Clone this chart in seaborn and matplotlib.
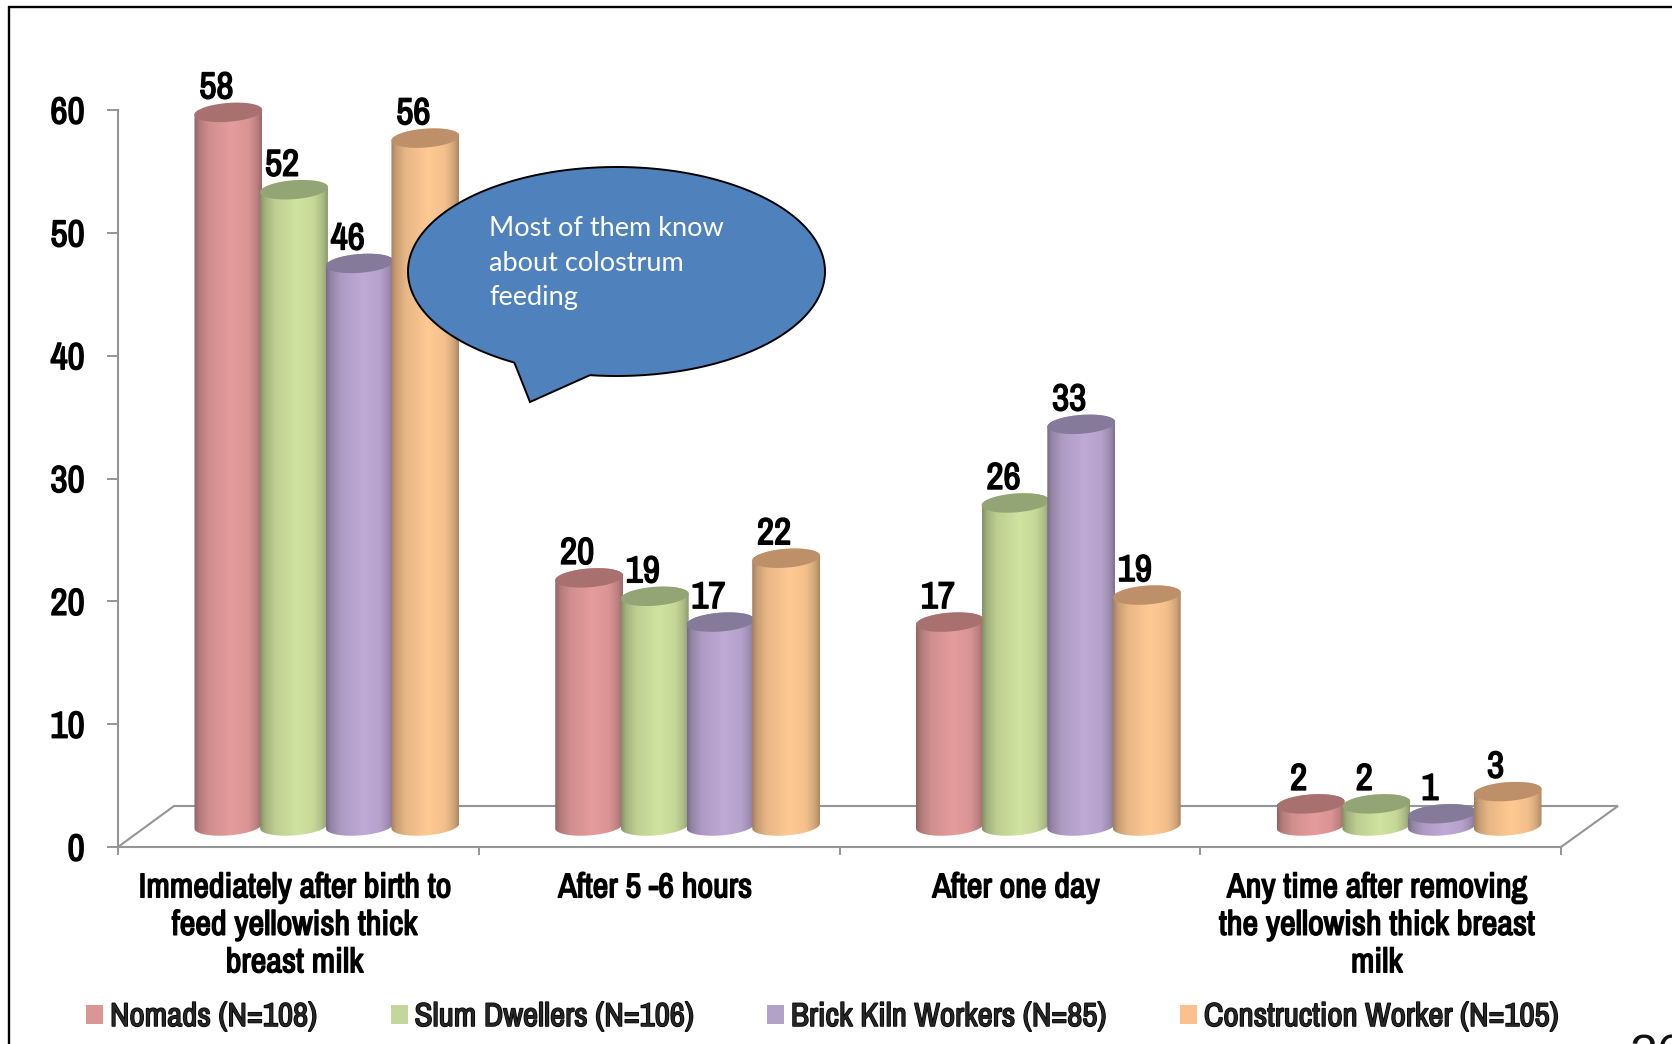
import numpy as np
import pandas as pd
import matplotlib
matplotlib.use("Agg")
import matplotlib.pyplot as plt
import matplotlib.patheffects as pe
from matplotlib.patches import Polygon
from matplotlib.colors import to_rgb
from matplotlib.transforms import ScaledTranslation
import seaborn as sns

categories = ["Immediately after birth to\nfeed yellowish thick\nbreast milk",
              "After 5 -6 hours",
              "After one day",
              "Any time after removing\nthe yellowish thick breast\nmilk"]
series_names = ["Nomads (N=108)", "Slum Dwellers (N=106)",
                "Brick Kiln Workers (N=85)", "Construction Worker (N=105)"]
nomads = [58.1, 20.2, 16.6, 1.8]
slum = [51.8, 18.7, 26.3, 1.8]
brick = [45.8, 16.6, 32.7, 1.0]
construction = [56.0, 21.8, 18.8, 2.8]
y_ticks = [0, 10, 20, 30, 40, 50, 60]
callout_lines = "Most of them know\nabout colostrum\nfeeding"

legend_colors = ["#d99694", "#c3d69b", "#b3a2c7", "#fac090"]
body_colors = ["#e59c9c", "#d0e3a0", "#bfaad6", "#ffc993"]
top_colors = ["#a87170", "#93a574", "#857a99", "#be9069"]
GRAY = "#959595"

W, H = 1672, 1044
sns.set_theme(style="white")
plt.rcParams["font.family"] = ["Archivo Narrow", "Liberation Sans", "DejaVu Sans"]
BOLD = [pe.withStroke(linewidth=1.1, foreground="black")]

df = pd.DataFrame({
    "category": np.tile(categories, 4),
    "series": np.repeat(series_names, 4),
    "value": nomads + slum + brick + construction,
})

fig = plt.figure(figsize=(W / 100, H / 100), dpi=100, facecolor="white")

back = fig.add_axes([0, 0, 1, 1], zorder=0)
front = fig.add_axes([0, 0, 1, 1], zorder=5)
for a in (back, front):
    a.set_xlim(0, W)
    a.set_ylim(H, 0)
    a.axis("off")
    a.patch.set_alpha(0)

ax = fig.add_axes([118 / W, 1 - 847 / H, (1561 - 118) / W, (847 - 110) / H], zorder=2)
ax.patch.set_alpha(0)

sns.barplot(data=df, x="category", y="value", hue="series", order=categories,
            hue_order=series_names, palette=legend_colors, width=0.728, gap=0,
            saturation=1, errorbar=None, ax=ax, legend=True, linewidth=0)
ax.set_xlim(-0.5, 3.5)
ax.set_ylim(0, 60)
fig.canvas.draw()

px_per_x = (1561 - 118) / 4
px_per_y = (847 - 110) / 60
DEPTH_X = 28.5 / px_per_x     # oblique shift of the bars on the floor
DEPTH_Y = 21 / px_per_y
A, B, ROT = 34.0, 9.4, np.deg2rad(4.5)

to_data = ax.transData.inverted()
to_disp = ax.transData


def ellipse_pts(cx, cy, t0, t1, n=40):
    """Points of a tilted ellipse around a centre in data units."""
    c = to_disp.transform((cx, cy))
    t = np.deg2rad(np.linspace(t0, t1, n))
    ex, ey = A * np.cos(t), B * np.sin(t)
    pts = np.column_stack([c[0] + ex * np.cos(ROT) - ey * np.sin(ROT),
                           c[1] + ex * np.sin(ROT) + ey * np.cos(ROT)])
    return to_data.transform(pts)


stops_t = [0, .07, .22, .55, .8, .93, 1]
stops_m = [.64, .78, .91, 1, .95, .82, .68]
shade = np.interp(np.linspace(0, 1, 96), stops_t, stops_m)

for s, cont in enumerate(ax.containers):
    body = np.array(to_rgb(body_colors[s]))
    ramp = (shade[:, None] * body)[None, :, :]
    for g, rect in enumerate(cont.patches):
        z = 3 + g * 10 + s
        rect.set_x(rect.get_x() + DEPTH_X)
        rect.set_y(DEPTH_Y)
        rect.set_zorder(z)
        rect.set_alpha(0)
        cx = rect.get_x() + rect.get_width() / 2
        base, top = DEPTH_Y, DEPTH_Y + rect.get_height()
        lo = ellipse_pts(cx, base, 180, 360)
        hi = ellipse_pts(cx, top, 0, 180)
        outline = np.vstack([lo, hi])
        clip = Polygon(outline, closed=True, transform=ax.transData, fc="none", ec="none")
        ax.add_patch(clip)
        im = ax.imshow(ramp, extent=(outline[:, 0].min(), outline[:, 0].max(),
                                     outline[:, 1].min(), outline[:, 1].max()),
                       aspect="auto", interpolation="bilinear", zorder=z + .1)
        im.set_clip_path(clip)
        cap = Polygon(ellipse_pts(cx, top, 0, 360, 80), closed=True, fc=top_colors[s],
                      ec="none", zorder=z + .2, clip_on=False)
        ax.add_patch(cap)
        ax.annotate(f"{rect.get_height():.0f}", xy=(cx, top), xytext=(-12 * .72, 14 * .72),
                    textcoords="offset points", ha="center", va="baseline",
                    fontsize=27, color="black", zorder=60, annotation_clip=False,
                    path_effects=BOLD)

ax.set_xlim(-0.5, 3.5)
ax.set_ylim(0, 60)
ax.set_xlabel("")
ax.set_ylabel("")
ax.set_yticks(y_ticks)
ax.set_yticklabels([str(v) for v in y_ticks], fontsize=27, color="black", path_effects=BOLD)
ax.set_xticks(range(4))
ax.set_xticklabels(categories, fontsize=24.7, color="black", linespacing=1.21, path_effects=BOLD)
ax.set_xticks(np.arange(-0.5, 4, 1), minor=True)
ax.tick_params(axis="x", which="major", length=0, pad=17.5, bottom=True)
ax.tick_params(axis="x", which="minor", length=6, width=1.4, color=GRAY, bottom=True)
ax.tick_params(axis="y", which="major", length=8, width=1.4, color=GRAY, pad=16, left=True)
shift = ScaledTranslation(-4 / 100, 0, fig.dpi_scale_trans)
for lab in ax.get_xticklabels():
    lab.set_transform(lab.get_transform() + shift)
for side in ("top", "right"):
    ax.spines[side].set_visible(False)
for side in ("left", "bottom"):
    ax.spines[side].set_color(GRAY)
    ax.spines[side].set_linewidth(1.5)

# chart floor
back.plot([118, 174, 1618, 1561], [847, 806, 806, 847], color=GRAY, lw=1.5, solid_joinstyle="miter")

# legend
handles, labels = ax.get_legend_handles_labels()
leg = ax.legend(handles, labels, ncol=4, loc="lower left",
                bbox_to_anchor=(86 / W, 1 - 1032 / H), bbox_transform=fig.transFigure,
                frameon=False, handlelength=.525, handleheight=.525,
                handletextpad=.2, columnspacing=2.2, borderpad=0, borderaxespad=0,
                prop={"size": 23.8})
for h in leg.legend_handles:
    h.set_alpha(1)
for tx in leg.get_texts():
    tx.set_path_effects(BOLD)

# slide border
front.plot([9, 9, W], [H, 7, 7], color="black", lw=1.7, solid_joinstyle="miter", clip_on=False)

# callout bubble
cx_c, cy_c, a_c, b_c = 616.5, 271.5, 208.5, 104.5
th1 = np.arctan2((375 - cy_c) / b_c, (590 - cx_c) / a_c) % (2 * np.pi)
th2 = np.arctan2((362 - cy_c) / b_c, (515 - cx_c) / a_c) % (2 * np.pi)
arc = np.linspace(th2, th1 + 2 * np.pi, 300)
bubble = np.column_stack([cx_c + a_c * np.cos(arc), cy_c + b_c * np.sin(arc)])
bubble = np.vstack([bubble, [[530, 402]]])
front.add_patch(Polygon(bubble, closed=True, fc="#4f81bd", ec="black", lw=1.4, joinstyle="miter"))
front.text(489, 216, callout_lines, family="Lato", fontsize=19.5, color="white",
           va="top", ha="left", linespacing=1.48)

# slide number, cut by the slide edge
front.text(1629, 1034, "26", family="Liberation Sans", fontsize=36, color="#111111",
           va="top", ha="left", clip_on=False)

fig.savefig("out.png", dpi=100, facecolor="white")
